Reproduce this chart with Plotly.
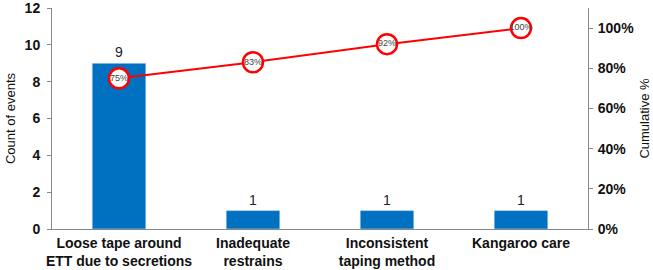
import plotly.graph_objects as go

categories = ["Loose tape around<br>ETT due to secretions", "Inadequate<br>restrains",
              "Inconsistent<br>taping method", "Kangaroo care"]
counts = [9, 1, 1, 1]
cumulative = [0.75, 0.83, 0.92, 1.00]
cum_labels = ["75%", "83%", "92%", "100%"]
left_ticks = [0, 2, 4, 6, 8, 10, 12]
right_ticks = [0, 0.2, 0.4, 0.6, 0.8, 1.0]

FONT = "Liberation Sans, Arial, Helvetica"

fig = go.Figure()
fig.add_trace(go.Bar(
    x=categories, y=counts, width=0.4, marker_color="#0070C0",
    text=[str(c) for c in counts], textposition="outside", cliponaxis=False,
    textfont=dict(size=14, color="#222", family=FONT),
    showlegend=False))
fig.add_trace(go.Scatter(
    x=categories, y=cumulative, yaxis="y2", mode="lines+markers+text",
    line=dict(color="#FF0000", width=2),
    marker=dict(size=20, color="white", line=dict(color="#FF0000", width=2.5)),
    text=cum_labels, textposition="middle center",
    textfont=dict(size=9, color="#444", family=FONT),
    cliponaxis=False, showlegend=False))

fig.update_layout(
    width=653, height=270,
    margin=dict(l=52, r=65, t=8, b=41),
    plot_bgcolor="white", paper_bgcolor="white",
    font=dict(family=FONT, size=13, color="#111"),
    xaxis=dict(showline=True, linecolor="#888", linewidth=1, ticks="",
               tickfont=dict(size=14, color="#111", family=FONT, weight="bold"),
               ticklabelstandoff=1, showgrid=False, automargin=False),
    yaxis=dict(range=[0, 12], tickvals=left_ticks, showline=True, linecolor="#888", linewidth=1,
               ticks="outside", ticklen=4, tickcolor="#888", showgrid=False,
               zeroline=False, ticklabelstandoff=4, automargin=False,
               ticklabeloverflow="allow",
               tickfont=dict(size=14, color="#111", weight="bold"),
               title=dict(text="Count of events", font=dict(size=13, color="#111"), standoff=6)),
    yaxis2=dict(range=[0, 1.1], tickvals=right_ticks, tickformat=".0%",
                overlaying="y", side="right", showline=True, linecolor="#888", linewidth=1,
                ticks="outside", ticklen=4, tickcolor="#888", showgrid=False, zeroline=False,
                ticklabelstandoff=2, automargin=False, ticklabeloverflow="allow",
                tickfont=dict(size=14, color="#111", weight="bold"),
                title=dict(text="Cumulative %", font=dict(size=13, color="#111"), standoff=6)),
)

fig.write_html("out.html")
